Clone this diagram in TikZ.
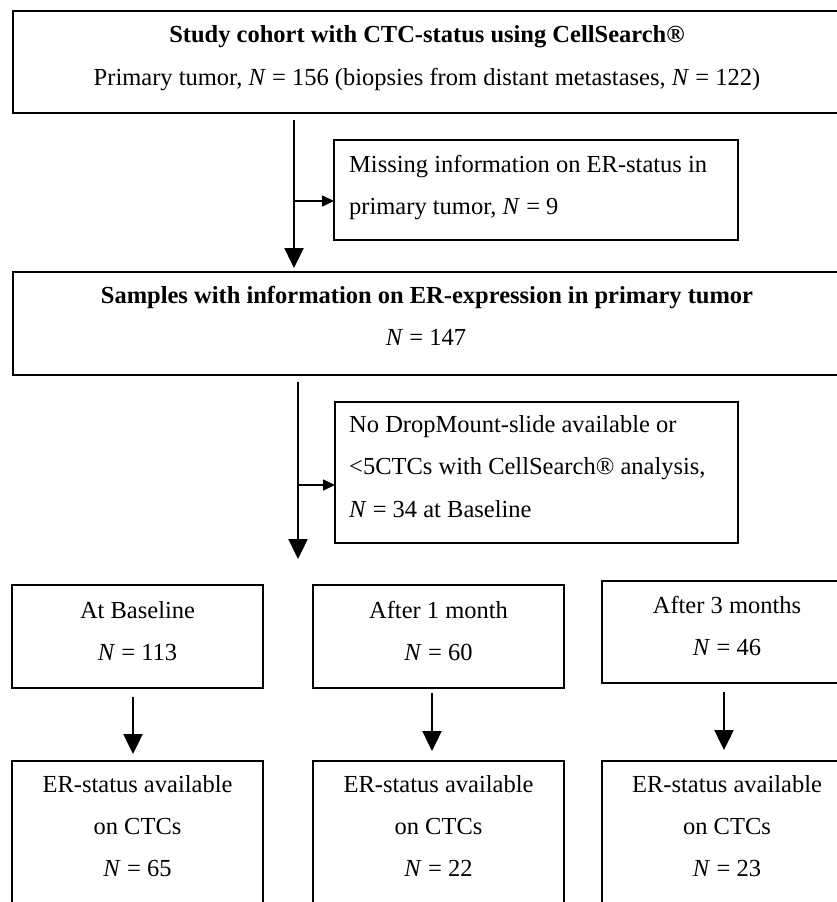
\documentclass[tikz,border=0pt]{standalone}
\usepackage{fontspec}
\setmainfont{Liberation Serif}
\usetikzlibrary{arrows.meta}
\tikzset{
  bigbox/.style={draw=black, line width=2.3pt, inner sep=0pt, outer sep=0pt, anchor=north west},
  smallbox/.style={draw=black, line width=1.3pt, inner sep=0pt, outer sep=0pt, anchor=north west},
  txt/.style={anchor=base, inner sep=0pt, font=\fontsize{24.5}{30}\selectfont},
  ltxt/.style={anchor=base west, inner sep=0pt, font=\fontsize{24.5}{30}\selectfont},
  mainarrow/.style={line width=2.4pt, -{Triangle[length=20pt,width=19pt]}},
  sidearrow/.style={line width=1.6pt, -{Triangle[length=12pt,width=11pt]}},
}
\newcommand{\NN}{\textit{N}}
\begin{document}
\begin{tikzpicture}[x=1pt,y=-1pt]
\useasboundingbox (0,0) rectangle (837,902);
\clip (0,0) rectangle (837,902);
% boxes
\node[bigbox, minimum width=832pt, minimum height=102pt] (cohort) at (13,11) {};
\node[smallbox, minimum width=404pt, minimum height=100pt] (missing) at (334,140) {};
\node[bigbox, minimum width=832pt, minimum height=103pt] (samples) at (13,272) {};
\node[smallbox, minimum width=403pt, minimum height=141pt] (drop) at (335,402) {};
\node[bigbox, minimum width=251pt, minimum height=103pt] (base) at (12,585) {};
\node[bigbox, minimum width=251pt, minimum height=103pt] (month1) at (313,585) {};
\node[bigbox, minimum width=253pt, minimum height=102pt] (month3) at (602,581) {};
\node[bigbox, minimum width=251pt, minimum height=180pt] (er1) at (12,761) {};
\node[bigbox, minimum width=251pt, minimum height=180pt] (er2) at (313,761) {};
\node[bigbox, minimum width=253pt, minimum height=180pt] (er3) at (602,761) {};
% texts
\node[txt] (t1) at (427,42) {\textbf{Study cohort with CTC-status using CellSearch®}};
\node[txt] (t2) at (427,85) {Primary tumor, \NN\ = 156 (biopsies from distant metastases, \NN\ = 122)};
\node[ltxt] (m1) at (349,172) {Missing information on ER-status in};
\node[ltxt] (m2) at (349,214) {primary tumor, \NN\ = 9};
\node[txt] (s1) at (427,303) {\textbf{Samples with information on ER-expression in primary tumor}};
\node[txt] (s2) at (426,345) {\NN\ = 147};
\node[ltxt] (d1) at (349,432) {No DropMount-slide available or};
\node[ltxt] (d2) at (349,474) {<5CTCs with CellSearch® analysis,};
\node[ltxt] (d3) at (349,517) {\NN\ = 34 at Baseline};
\node[txt] (b1) at (137.5,618) {At Baseline};
\node[txt] (b2) at (137.5,660) {\NN\ = 113};
\node[txt] (a1) at (438.5,618) {After 1 month};
\node[txt] (a2) at (438.5,660) {\NN\ = 60};
\node[txt] (c1) at (727,613) {After 3 months};
\node[txt] (c2) at (727,655) {\NN\ = 46};
\foreach \cx/\v/\nm in {137.5/65/e, 438.5/22/f, 727/23/g}{
  \node[txt] (\nm1) at (\cx,792) {ER-status available};
  \node[txt] (\nm2) at (\cx,834) {on CTCs};
  \node[txt] (\nm3) at (\cx,876) {\NN\ = \v};
}
% connectors
\coordinate (colA) at (294,0);
\coordinate (colB) at (298,0);
\coordinate (A1m) at (294,201);
\coordinate (A2m) at (298,485);
\draw[mainarrow, shorten <=7pt, shorten >=4pt] (cohort.south -| colA) -- (samples.north -| colA);
\draw[sidearrow] (A1m) -- (missing.west |- A1m);
\draw[mainarrow, shorten <=7pt, shorten >=26pt] (samples.south -| colB) -- (base.north -| colB);
\draw[sidearrow] (A2m) -- (drop.west |- A2m);
\draw[mainarrow, shorten <=9pt, shorten >=7pt] ([xshift=-4.5pt]base.south) -- ([xshift=-4.5pt]er1.north);
\draw[mainarrow, shorten <=5pt, shorten >=10pt] ([xshift=-6.5pt]month1.south) -- ([xshift=-6.5pt]er2.north);
\draw[mainarrow, shorten <=9pt, shorten >=11pt] ([xshift=-4.5pt]month3.south) -- ([xshift=-4.5pt]er3.north);
\end{tikzpicture}
\end{document}
